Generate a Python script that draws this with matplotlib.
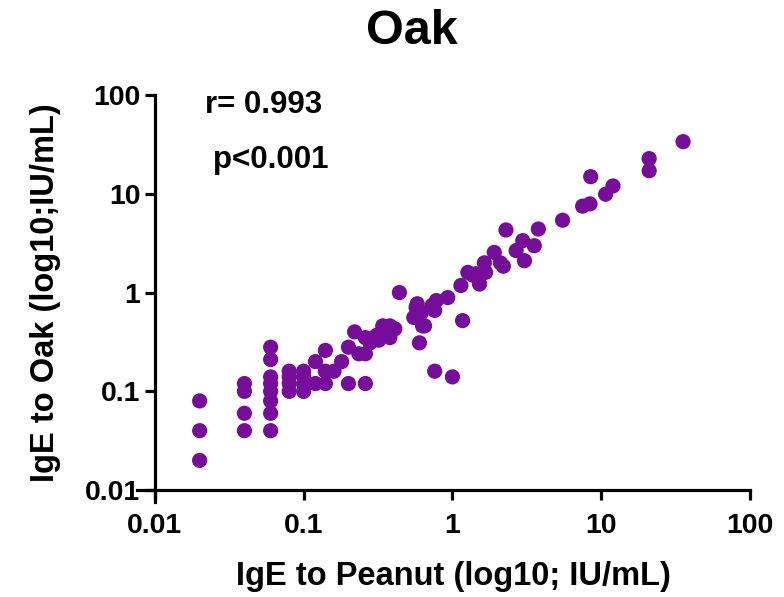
import numpy as np
import matplotlib
matplotlib.use("Agg")
import matplotlib.pyplot as plt
from matplotlib.ticker import FixedLocator, FixedFormatter, NullLocator

# IgE values (IU/mL)
peanut = [0.02, 0.02, 0.02,
          0.04, 0.04, 0.04, 0.04,
          0.06, 0.06, 0.06, 0.06, 0.06, 0.06, 0.06, 0.06,
          0.08, 0.08, 0.08, 0.08,
          0.1, 0.1, 0.1, 0.1,
          0.12, 0.12, 0.14, 0.14, 0.14,
          0.16, 0.18, 0.2, 0.2, 0.22, 0.235, 0.26, 0.26, 0.26, 0.28,
          0.31, 0.32, 0.34, 0.38, 0.41, 0.38,
          0.44, 0.57, 0.55, 0.58, 0.62, 0.63, 0.6, 0.65, 0.73, 0.76,
          0.78, 0.76, 0.93, 1.0, 1.17,
          1.14, 1.27, 1.37, 1.44, 1.52, 1.64, 1.67, 1.91, 2.1, 2.2,
          2.29, 2.68, 2.97, 3.05, 3.55, 3.78, 5.5, 7.5, 8.4, 8.5,
          10.7, 12, 21, 21, 35.5]
oak = [0.08, 0.04, 0.02,
       0.12, 0.1, 0.06, 0.04,
       0.28, 0.21, 0.14, 0.12, 0.1, 0.08, 0.06, 0.04,
       0.16, 0.14, 0.12, 0.1,
       0.16, 0.14, 0.12, 0.1,
       0.2, 0.12, 0.26, 0.16, 0.12,
       0.16, 0.2, 0.12, 0.28, 0.4, 0.24, 0.24, 0.12, 0.35, 0.31,
       0.37, 0.33, 0.46, 0.46, 0.43, 0.35,
       1.0, 0.71, 0.56, 0.77, 0.63, 0.46, 0.31, 0.46, 0.74, 0.66,
       0.83, 0.16, 0.89, 0.14, 0.52,
       1.18, 1.6, 1.5, 1.55, 1.22, 2.0, 1.6, 2.55, 2.0, 1.85,
       4.3, 2.66, 3.35, 2.1, 2.98, 4.4, 5.4, 7.5, 7.9, 14.9,
       9.9, 12, 22.7, 17.1, 33.7]

ticks = [0.01, 0.1, 1, 10, 100]
tick_labels = ["0.01", "0.1", "1", "10", "100"]

plt.rcParams['font.family'] = ['Liberation Sans', 'DejaVu Sans']
plt.rcParams['font.weight'] = 'bold'

W, H = 784, 597
fig = plt.figure(figsize=(W / 100, H / 100), dpi=100)
# axes spans a little past 0.01 so the two spines cross with an overhang
x0, x1 = 137, 750
y0, y1 = 502, 95
ax = fig.add_axes([x0 / W, 1 - y0 / H, (x1 - x0) / W, (y0 - y1) / H])

ax.scatter(peanut, oak, s=120, color='#760c9a', edgecolors='none', zorder=3,
           clip_on=False)

ax.set_xscale('log')
ax.set_yscale('log')
ax.set_xlim(10 ** -2.12, 100)
ax.set_ylim(10 ** -2.12, 100)

for side in ['top', 'right']:
    ax.spines[side].set_visible(False)
for side in ['left', 'bottom']:
    ax.spines[side].set_linewidth(2.3)
    ax.spines[side].set_position(('data', 0.01))

for axis in [ax.xaxis, ax.yaxis]:
    axis.set_major_locator(FixedLocator(ticks))
    axis.set_major_formatter(FixedFormatter(tick_labels))
    axis.set_minor_locator(NullLocator())
ax.tick_params(which='major', length=7.5, width=2.3, labelsize=20.5)
ax.tick_params(axis='x', pad=9)
ax.tick_params(axis='y', pad=3)

ax.set_xlabel("IgE to Peanut (log10; IU/mL)", fontsize=23.5, fontweight='bold',
              va='center', ha='center')
ax.xaxis.set_label_coords(0.5155, -0.184)
ax.set_ylabel("IgE to Oak (log10;IU/mL)", fontsize=23.5, fontweight='bold',
              va='center', ha='center')
ax.yaxis.set_label_coords(-0.150, 0.515)

fig.text(412 / W, 1 - 32 / H, "Oak", fontsize=35, fontweight='bold',
         ha='center', va='center')
fig.text(205 / W, 1 - 105 / H, "r= 0.993", fontsize=22.5, fontweight='bold',
         ha='left', va='center')
fig.text(213 / W, 1 - 160 / H, "p<0.001", fontsize=22.5, fontweight='bold',
         ha='left', va='center')

fig.savefig("out.png", dpi=100)
